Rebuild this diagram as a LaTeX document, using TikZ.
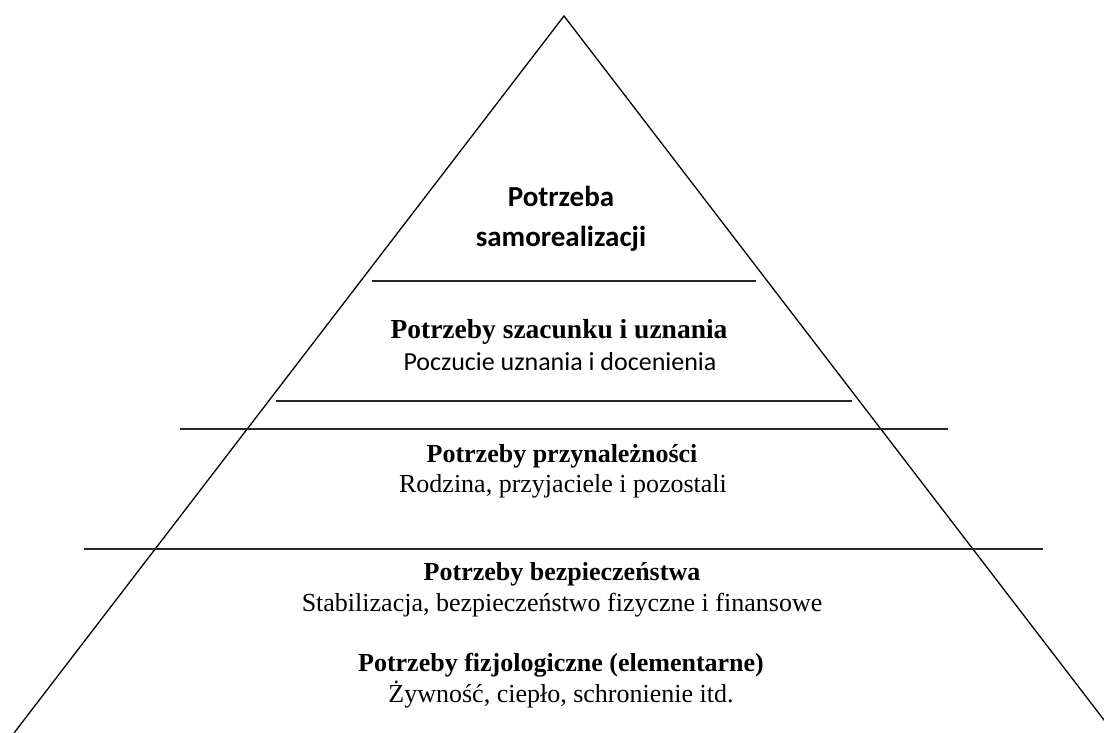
\documentclass[tikz,border=0pt]{standalone}
\usepackage{fontspec}
\setmainfont{Liberation Serif}
\newfontfamily\calibri{Carlito}
\begin{document}
\begin{tikzpicture}[x=1pt,y=-1pt,
  tri/.style={line width=1.3pt, black},
  rule/.style={line width=1.8pt, black!85},
  txt/.style={anchor=base, inner sep=0pt},
  head/.style={txt, font=\fontsize{26}{30}\selectfont\bfseries},
  bighead/.style={txt, font=\fontsize{27.5}{30}\selectfont\bfseries},
  sub/.style={txt, font=\fontsize{26}{30}\selectfont},
  ctop/.style={txt, font=\calibri\fontsize{29}{30}\selectfont\bfseries},
  csub/.style={txt, font=\calibri\fontsize{26}{30}\selectfont}]
\useasboundingbox (0,0) rectangle (1104,733);
\clip (0,0) rectangle (1104,733);
% pyramid
\coordinate (apex) at (564,16);
\coordinate (bl) at (14,733);
\coordinate (br) at (1114,733);
\draw[tri] (bl) -- (apex) -- (br);
% level rules
\coordinate (r1a) at (372,281); \coordinate (r1b) at (756,281);
\coordinate (r2a) at (276,401); \coordinate (r2b) at (852,401);
\coordinate (r3a) at (180,429); \coordinate (r3b) at (948,429);
\coordinate (r4a) at (84,549);  \coordinate (r4b) at (1043,549);
\draw[rule] (r1a) -- (r1b);
\draw[rule] (r2a) -- (r2b);
\draw[rule] (r3a) -- (r3b);
\draw[rule] (r4a) -- (r4b);
% texts
\node[ctop] (t1a) at (561,207) {Potrzeba};
\node[ctop] (t1b) at (561,246) {samorealizacji};
\node[bighead] (t2a) at (559,338) {Potrzeby szacunku i uznania};
\node[csub] (t2b) at (560,370) {Poczucie uznania i docenienia};
\node[head] (t3a) at (562,462) {Potrzeby przynależności};
\node[sub]  (t3b) at (563,492) {Rodzina, przyjaciele i pozostali};
\node[head] (t4a) at (562,580) {Potrzeby bezpieczeństwa};
\node[sub]  (t4b) at (562,611) {Stabilizacja, bezpieczeństwo fizyczne i finansowe};
\node[head] (t5a) at (561,671) {Potrzeby fizjologiczne (elementarne)};
\node[sub]  (t5b) at (561,702) {Żywność, ciepło, schronienie itd.};
\end{tikzpicture}
\end{document}
